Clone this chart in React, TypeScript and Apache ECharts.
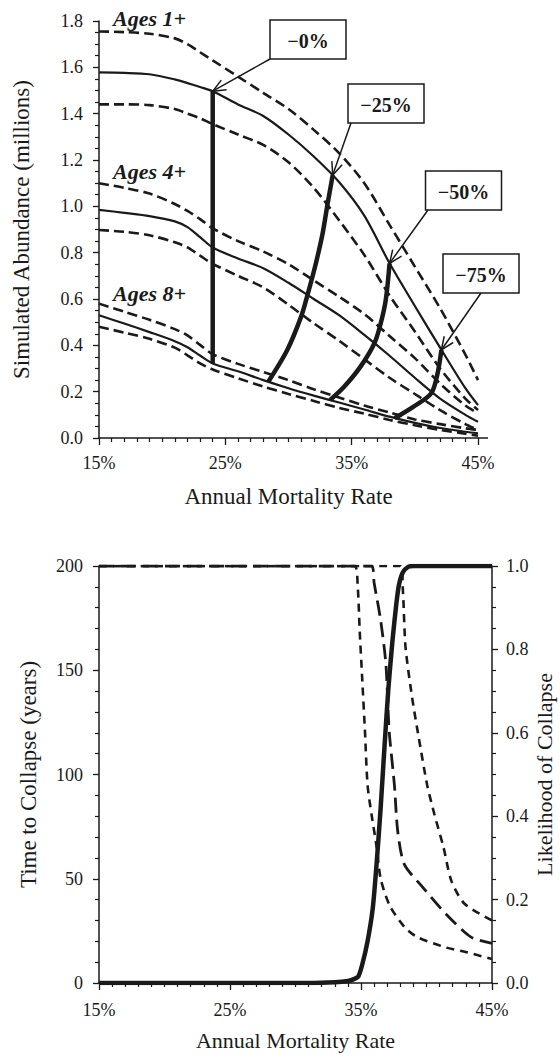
import React, { useEffect, useRef } from 'react';
import * as echarts from 'echarts';

// ---------- Top panel data (Annual mortality %, abundance in millions) ----------
const mortalityTop = [15, 17, 19, 21, 22, 23, 24, 26, 28, 30, 32, 34, 36, 38, 40, 42, 44, 45];
const ages1Upper = [1.755, 1.752, 1.745, 1.725, 1.7, 1.665, 1.63, 1.56, 1.49, 1.42, 1.33, 1.23, 1.1, 0.92, 0.74, 0.56, 0.36, 0.25];
const ages1Mid = [1.578, 1.576, 1.57, 1.548, 1.532, 1.515, 1.497, 1.44, 1.39, 1.31, 1.215, 1.105, 0.96, 0.754, 0.57, 0.39, 0.215, 0.142];
const ages1Lower = [1.44, 1.44, 1.437, 1.42, 1.4, 1.38, 1.355, 1.31, 1.265, 1.19, 1.08, 0.94, 0.79, 0.615, 0.46, 0.3, 0.17, 0.121];
const ages4Upper = [1.1, 1.08, 1.055, 1.01, 0.98, 0.945, 0.905, 0.85, 0.805, 0.75, 0.68, 0.61, 0.535, 0.44, 0.345, 0.235, 0.14, 0.107];
const ages4Mid = [0.985, 0.972, 0.958, 0.935, 0.91, 0.867, 0.822, 0.775, 0.733, 0.67, 0.6, 0.53, 0.445, 0.355, 0.26, 0.17, 0.1, 0.07];
const ages4Lower = [0.898, 0.89, 0.875, 0.845, 0.823, 0.787, 0.752, 0.7, 0.65, 0.575, 0.495, 0.42, 0.34, 0.26, 0.19, 0.12, 0.06, 0.035];
const ages8Upper = [0.58, 0.545, 0.51, 0.47, 0.443, 0.402, 0.362, 0.32, 0.285, 0.25, 0.21, 0.175, 0.14, 0.11, 0.08, 0.06, 0.042, 0.035];
const ages8Mid = [0.53, 0.494, 0.457, 0.418, 0.392, 0.356, 0.322, 0.288, 0.25, 0.215, 0.183, 0.153, 0.123, 0.092, 0.065, 0.043, 0.027, 0.02];
const ages8Lower = [0.48, 0.455, 0.428, 0.39, 0.357, 0.322, 0.296, 0.258, 0.222, 0.19, 0.16, 0.13, 0.105, 0.078, 0.055, 0.035, 0.018, 0.01];

// Reduction trajectories (mortality %, abundance)
const red0X = [24, 24];
const red0Y = [0.322, 1.497];
const red25X = [28.4, 29.9, 31.0, 31.5, 32.1, 32.7, 33.1, 33.5];
const red25Y = [0.243, 0.38, 0.524, 0.617, 0.739, 0.883, 1.013, 1.135];
const red50X = [33.3, 34.4, 35.7, 36.8, 37.3, 37.7, 38.0];
const red50Y = [0.164, 0.221, 0.308, 0.409, 0.495, 0.596, 0.754];
const red75X = [38.4, 39.9, 41.3, 41.8, 42.1];
const red75Y = [0.085, 0.135, 0.193, 0.279, 0.38];
const reductionLabels = ['\u22120%', '\u221225%', '\u221250%', '\u221275%'];
const ageLabels = ['Ages 1+', 'Ages 4+', 'Ages 8+'];

// ---------- Bottom panel data ----------
const likeX = [15, 25, 30, 33, 34, 34.5, 34.8, 35.1, 35.5, 35.9, 36.2, 36.5, 36.8, 37.1, 37.4, 37.7, 37.9, 38.2, 38.6, 39, 45];
const likeY = [0, 0, 0, 0.002, 0.005, 0.01, 0.016, 0.045, 0.1, 0.18, 0.29, 0.42, 0.57, 0.71, 0.82, 0.91, 0.955, 0.985, 0.998, 1, 1];
const timeLowX = [15, 30, 34.5, 34.75, 34.9, 35.1, 35.3, 35.5, 35.8, 36.2, 36.5, 37.2, 38.3, 39.3, 41.5, 42.9, 45];
const timeLowY = [200, 200, 200, 190, 169, 145, 121, 95, 81, 65, 50, 37, 27, 22, 17, 15, 11.5];
const timeMidX = [15, 30, 35.8, 36.0, 36.5, 36.9, 37.15, 37.55, 37.8, 38.3, 39.7, 41.5, 43.4, 45];
const timeMidY = [200, 200, 200, 192, 174, 153, 121, 95, 73, 57, 46, 33, 22, 19];
const timeHighX = [15, 30, 38.0, 38.2, 38.4, 38.9, 39.4, 40.05, 40.6, 41.3, 41.9, 42.9, 45];
const timeHighY = [200, 200, 200, 188, 161, 137, 118, 95, 81, 65, 49, 38, 30];

const FONT = '"Liberation Serif", "Times New Roman", serif';
const INK = '#1a1a1a';

const pairs = (xs: number[], ys: number[]) => xs.map((x, i) => [x, ys[i]]);

const axisCommon = (extra: any) => ({
  type: 'value',
  axisLine: { show: true, onZero: false, lineStyle: { color: INK, width: 1.5 } },
  axisTick: { show: true, length: 7, lineStyle: { color: INK, width: 1.3 } },
  minorTick: { show: true, length: 4, lineStyle: { color: INK, width: 1.2 } },
  splitLine: { show: false },
  minorSplitLine: { show: false },
  axisLabel: { fontSize: 18, color: INK, fontFamily: FONT },
  nameLocation: 'middle',
  nameTextStyle: { fontSize: 23, color: INK, fontFamily: FONT },
  ...extra,
});

const line = (name: string, xs: number[], ys: number[], opts: any) => ({
  type: 'line',
  name,
  data: pairs(xs, ys),
  showSymbol: false,
  symbol: 'none',
  smooth: opts.smooth ?? 0.3,
  xAxisIndex: opts.x ?? 0,
  yAxisIndex: opts.y ?? 0,
  lineStyle: { color: INK, width: opts.width ?? 2, type: opts.dash ?? 'solid', cap: 'butt' },
  z: opts.z ?? 2,
  silent: true,
});

export default function App() {
  const ref = useRef<HTMLDivElement>(null);
  useEffect(() => {
    const chart = echarts.init(ref.current!, null, { renderer: 'svg' });
    const dash = [10, 5];
    const option: any = {
      animation: false,
      textStyle: { fontFamily: FONT },
      grid: [
        { left: 99, right: 82, top: 21, height: 417, outerBoundsMode: 'none' },
        { left: 99, right: 68, top: 566, height: 417, outerBoundsMode: 'none' },
      ],
      xAxis: [
        axisCommon({
          gridIndex: 0, min: 15, max: 45, interval: 10,
          minorTick: { show: true, splitNumber: 10, length: 4, lineStyle: { color: INK, width: 1.2 } },
          axisLabel: { fontSize: 18, color: INK, fontFamily: FONT, margin: 16, formatter: (v: number) => v + '%' },
          name: 'Annual Mortality Rate', nameGap: 47,
        }),
        axisCommon({
          gridIndex: 1, min: 15, max: 45, interval: 10,
          minorTick: { show: true, splitNumber: 10, length: 4, lineStyle: { color: INK, width: 1.2 } },
          axisLabel: { fontSize: 18, color: INK, fontFamily: FONT, margin: 18, formatter: (v: number) => v + '%' },
          name: 'Annual Mortality Rate', nameGap: 46,
          nameTextStyle: { fontSize: 22, color: INK, fontFamily: FONT },
        }),
      ],
      yAxis: [
        axisCommon({
          gridIndex: 0, min: 0, max: 1.8, interval: 0.2,
          axisTick: { show: true, length: 6, lineStyle: { color: INK, width: 1.3 } },
          minorTick: { show: true, splitNumber: 4, length: 4, lineStyle: { color: INK, width: 1.2 } },
          axisLabel: { fontSize: 18, color: INK, fontFamily: FONT, margin: 16, formatter: (v: number) => v.toFixed(1) },
          name: 'Simulated Abundance (millions)', nameGap: 66, nameRotate: 90,
        }),
        axisCommon({
          gridIndex: 1, min: 0, max: 200, interval: 50,
          axisTick: { show: true, length: 6, lineStyle: { color: INK, width: 1.3 } },
          minorTick: { show: true, splitNumber: 5, length: 4, lineStyle: { color: INK, width: 1.2 } },
          axisLabel: { fontSize: 18, color: INK, fontFamily: FONT, margin: 16 },
          name: 'Time to Collapse (years)', nameGap: 59, nameRotate: 90,
        }),
        axisCommon({
          gridIndex: 1, min: 0, max: 1, interval: 0.2, position: 'right',
          axisTick: { show: true, length: 6, lineStyle: { color: INK, width: 1.3 } },
          minorTick: { show: true, splitNumber: 4, length: 4, lineStyle: { color: INK, width: 1.2 } },
          axisLabel: { fontSize: 18, color: INK, fontFamily: FONT, margin: 14, formatter: (v: number) => v.toFixed(1) },
          name: 'Likelihood of Collapse', nameGap: 41, nameRotate: 90, nameMoveOverlap: false,
          nameTextStyle: { fontSize: 22, color: INK, fontFamily: FONT },
        }),
      ],
      series: [
        line('Ages 1+ upper', mortalityTop, ages1Upper, { dash, width: 2.6 }),
        line('Ages 1+', mortalityTop, ages1Mid, { width: 2.2 }),
        line('Ages 1+ lower', mortalityTop, ages1Lower, { dash, width: 2.6 }),
        line('Ages 4+ upper', mortalityTop, ages4Upper, { dash, width: 2.6 }),
        line('Ages 4+', mortalityTop, ages4Mid, { width: 2.2 }),
        line('Ages 4+ lower', mortalityTop, ages4Lower, { dash, width: 2.6 }),
        line('Ages 8+ upper', mortalityTop, ages8Upper, { dash, width: 2.6 }),
        line('Ages 8+', mortalityTop, ages8Mid, { width: 2.2 }),
        line('Ages 8+ lower', mortalityTop, ages8Lower, { dash, width: 2.6 }),
        line('-0%', red0X, red0Y, { width: 4.5, smooth: false, z: 3 }),
        line('-25%', red25X, red25Y, { width: 4.5, smooth: 0.3, z: 3 }),
        line('-50%', red50X, red50Y, { width: 4.5, smooth: 0.3, z: 3 }),
        line('-75%', red75X, red75Y, { width: 4.5, smooth: 0.3, z: 3 }),
        line('Time low', timeLowX, timeLowY, { x: 1, y: 1, dash: [8, 6], width: 2.6, smooth: 0.25 }),
        line('Time median', timeMidX, timeMidY, { x: 1, y: 1, dash: [15, 7], width: 2.8, smooth: 0.25 }),
        line('Time high', timeHighX, timeHighY, { x: 1, y: 1, dash: [8, 6], width: 2.6, smooth: 0.25 }),
        line('Likelihood', likeX, likeY, { x: 1, y: 2, width: 4.5, smooth: 0.25, z: 3 }),
      ],
    };
    chart.setOption(option);

    const toPx = (p: number[]) => chart.convertToPixel({ gridIndex: 0 } as any, p) as number[];
    const graphics: any[] = [];
    const lineStyle = { stroke: INK, lineWidth: 1.5, fill: 'none' };

    // small extension of the top x axis beyond 45%
    const endPx = toPx([45, 0]);
    graphics.push({ type: 'line', shape: { x1: endPx[0], y1: endPx[1], x2: endPx[0] + 10, y2: endPx[1] }, style: { stroke: INK, lineWidth: 1.5 }, z: 10 });

    // Ages labels
    const agePos = [[113, 18], [113, 171], [113, 293]];
    ageLabels.forEach((t, i) => {
      graphics.push({
        type: 'text', x: agePos[i][0], y: agePos[i][1], z: 10,
        style: { text: t, font: `italic bold 22px ${FONT}`, fill: INK, textAlign: 'left', textVerticalAlign: 'middle', align: 'left', verticalAlign: 'middle' },
      });
    });

    // reduction labels with arrows
    const tips = [
      [red0X[red0X.length - 1], red0Y[red0Y.length - 1]],
      [red25X[red25X.length - 1], red25Y[red25Y.length - 1]],
      [red50X[red50X.length - 1], red50Y[red50Y.length - 1]],
      [red75X[red75X.length - 1], red75Y[red75Y.length - 1]],
    ];
    const boxCenters = [[308, 39.5], [386, 103.5], [463.5, 190.5], [481, 273.5]];
    const arrowStarts = [[270, 59], [351, 123], [428, 210], [481, 293]];
    const bw = 76, bh = 39;
    reductionLabels.forEach((t, i) => {
      const tip = toPx(tips[i]);
      const [sx, sy] = arrowStarts[i];
      const tx = tip[0], ty = tip[1];
      const ang = Math.atan2(ty - sy, tx - sx);
      const L = 14, a = 0.4;
      graphics.push({ type: 'line', shape: { x1: sx, y1: sy, x2: tx, y2: ty }, style: lineStyle, z: 10 });
      graphics.push({
        type: 'polyline', z: 10,
        shape: { points: [[tx - L * Math.cos(ang - a), ty - L * Math.sin(ang - a)], [tx, ty], [tx - L * Math.cos(ang + a), ty - L * Math.sin(ang + a)]] },
        style: lineStyle,
      });
      const [cx, cy] = boxCenters[i];
      graphics.push({ type: 'rect', z: 11, shape: { x: cx - bw / 2, y: cy - bh / 2, width: bw, height: bh }, style: { fill: '#fff', stroke: INK, lineWidth: 1.5 } });
      graphics.push({
        type: 'text', x: cx, y: cy + 1, z: 12,
        style: { text: t, font: `bold 20px ${FONT}`, fill: INK, textAlign: 'center', textVerticalAlign: 'middle', align: 'center', verticalAlign: 'middle' },
      });
    });
    chart.setOption({ graphic: graphics });

    return () => chart.dispose();
  }, []);
  return <div ref={ref} style={{ position: 'absolute', left: 0, top: 0, width: 560, height: 1055, background: '#fff' }} />;
}
